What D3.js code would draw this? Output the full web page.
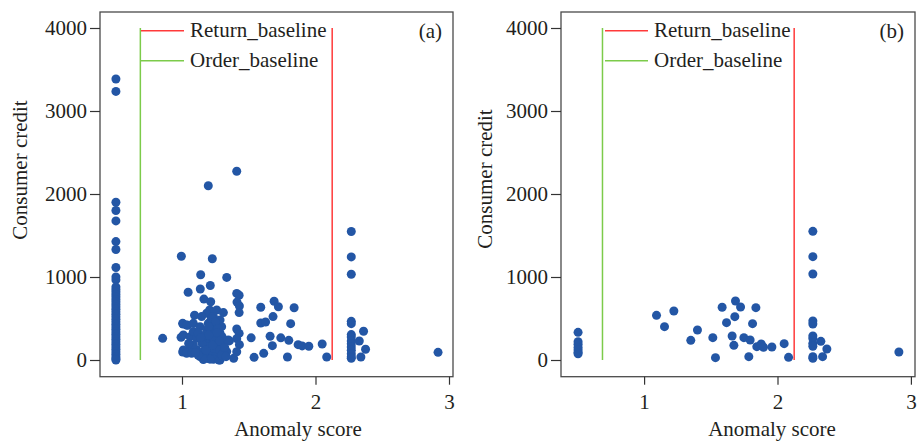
<!DOCTYPE html>
<html><head><meta charset="utf-8">
<script src="https://cdn.jsdelivr.net/npm/d3@7"></script>
<style>
body{margin:0;background:#fff;}
svg text{font-family:"Liberation Serif","Times New Roman","DejaVu Serif",serif !important;fill:#231f20;}
</style></head>
<body><svg id="c" width="919" height="442"></svg>
<script>
// ---- data ----
const xTicks = [1, 2, 3];
const yTicks = [0, 1000, 2000, 3000, 4000];
const panelLabels = ["(a)", "(b)"];
const legendLabels = ["Return_baseline", "Order_baseline"];
const returnBaseline = 2.125;
const orderBaseline = 0.688;
const columnX = 0.505;
const columnA = [3385,3236,1901,1801,1676,1427,1331,1114,1001,965,880,850,820,790,760,730,700,670,640,610,580,550,520,490,460,430,400,370,340,310,280,250,220,190,160,130,100,70,40,15,0];
const pointsA = [[0.855,261],[0.995,1250],[1.197,2100],[1.41,2274],[1.227,1220],[1.14,1027],[1.335,995],[1.212,898],[1.137,855],[1.046,816],[1.41,802],[1.428,780],[1.164,734],[1.215,702],[1.412,698],[1.43,651],[1.428,571],[1.59,636],[1.69,708],[1.722,641],[1.84,629],[1.682,523],[1.094,539],[1.008,434],[1.042,418],[1.59,446],[1.626,458],[1.814,438],[1.66,286],[1.74,267],[1.8,237],[1.518,267],[1.355,230],[1.87,185],[1.9,170],[1.95,165],[2.05,193],[2.084,36],[1.79,36],[1.54,32],[1.612,80],[1.677,173],[1.387,20],[1.277,0],[1.41,374],[1.428,320],[1.41,257],[1.43,185],[1.41,100],[1.005,96],[0.993,273],
[1.207,603],[1.26,603],[1.31,571],[1.185,563],[1.235,523],[1.285,483],[1.005,442],[1.035,422],[1.085,442],[1.135,402],[1.185,362],[1.235,342],[1.285,322],[1.01,302],[1.06,281],[1.11,261],[1.16,241],[1.21,221],[1.26,201],[1.31,181],[1.01,121],[1.06,141],[1.11,121],[1.16,101],[1.21,80],[1.26,60],[1.035,80],[1.135,40],[1.185,20],[1.235,8],[1.285,0],[1.085,181],[1.185,161],[1.235,141],[1.285,121],[1.335,101],[1.347,241],[1.147,523],[1.197,442],[1.247,422],[1.297,402],[1.085,342],[1.122,322],[1.172,302],[1.222,281],[1.272,261],[1.072,80],[1.297,60],[1.21,10],[1.16,5],
[1.22,500],[1.25,460],[1.2,400],[1.27,380],[1.15,200],[1.24,250],[1.3,280],[1.18,120],[1.23,180],[1.28,230],[1.12,60],[1.33,40],[1.05,200],[1.1,90],[1.32,150],[1.26,330],[1.2,300],[1.14,270],
[2.268,1548],[2.268,1242],[2.268,1033],[2.268,466],[2.268,438],[2.268,306],[2.268,277],[2.268,230],[2.268,197],[2.268,157],[2.268,117],[2.268,76],[2.268,40],[2.268,20],[2.328,229],[2.375,129],[2.34,36],[2.36,346],[2.918,92]];
const columnB = [333,221,190,150,120,90,75];
const pointsB = [[1.093,538],[1.223,590],[1.153,402],[1.40,361],[1.35,237],[1.515,269],[1.535,28],[1.585,635],[1.685,711],[1.723,639],[1.838,631],[1.68,522],[1.618,450],[1.813,438],[1.66,289],[1.748,269],[1.795,241],[1.673,177],[1.845,161],[1.878,193],[1.895,153],[1.958,157],[2.05,197],[1.785,40],[2.083,32],
[2.265,1550],[2.265,1245],[2.265,1036],[2.265,470],[2.265,434],[2.265,289],[2.265,260],[2.265,201],[2.265,165],[2.265,40],[2.265,20],[2.325,225],[2.37,133],[2.338,40],[2.91,96]];

// ---- drawing ----
const svg = d3.select("#c");
const dotColor = "#2356a5";
const serif = '"Liberation Serif","Times New Roman","DejaVu Serif",serif';
const panels = [
  {label: panelLabels[0], col: columnA, pts: pointsA, xr: [48.5, 449], frame: [100, 453], ylab: [26.7, 170], xlabX: 298, legX: 141},
  {label: panelLabels[1], col: columnB, pts: pointsB, xr: [510.7, 910.9], frame: [561, 915], ylab: [491.7, 179], xlabX: 772, legX: 605}
];
const yTop = 12, yBot = 376.7;

panels.forEach(p => {
  const x = d3.scaleLinear().domain([0, 3]).range(p.xr);
  const y = d3.scaleLinear().domain([0, 4000]).range([360, 28]);
  const g = svg.append("g").attr("font-family", serif);

  g.append("rect").attr("x", p.frame[0]).attr("y", yTop)
    .attr("width", p.frame[1] - p.frame[0]).attr("height", yBot - yTop)
    .attr("fill", "none").attr("stroke", "#4a4a4a").attr("stroke-width", 1.3);

  const ya = g.append("g").attr("transform", `translate(${p.frame[0]},0)`)
    .call(d3.axisLeft(y).tickValues(yTicks).tickSize(10).tickPadding(3).tickFormat(d3.format("d")));
  const xa = g.append("g").attr("transform", `translate(0,${yBot})`)
    .call(d3.axisBottom(x).tickValues(xTicks).tickSize(8).tickPadding(9).tickFormat(d3.format("d")));
  [ya, xa].forEach(a => {
    a.attr("font-family", serif).attr("font-size", 21);
    a.select(".domain").remove();
    a.selectAll("line").attr("stroke", "#333").attr("stroke-width", 1.2);
    a.selectAll("text").attr("fill", "#231f20");
  });

  g.append("line").attr("x1", x(orderBaseline)).attr("x2", x(orderBaseline))
    .attr("y1", y(4000)).attr("y2", y(0)).attr("stroke", "#7ccb4a").attr("stroke-width", 1.5);
  g.append("line").attr("x1", x(returnBaseline)).attr("x2", x(returnBaseline))
    .attr("y1", y(4000)).attr("y2", y(0)).attr("stroke", "#ff3a3a").attr("stroke-width", 1.5);

  const legColors = ["#ff3a3a", "#7ccb4a"];
  const legY = [30.7, 60.7];
  legendLabels.forEach((t, i) => {
    g.append("line").attr("x1", p.legX).attr("x2", p.legX + 43)
      .attr("y1", legY[i]).attr("y2", legY[i]).attr("stroke", legColors[i]).attr("stroke-width", 1.5);
    g.append("text").attr("x", p.legX + 49).attr("y", legY[i] + 6.5)
      .attr("font-size", 21).text(t);
  });

  g.append("text").attr("x", p.frame[1] - 11).attr("y", 37.5).attr("text-anchor", "end")
    .attr("font-size", 21).text(p.label);

  g.append("text").attr("transform", `translate(${p.ylab[0]},${p.ylab[1]}) rotate(-90)`)
    .attr("text-anchor", "middle").attr("font-size", 21).text("Consumer credit");
  g.append("text").attr("x", p.xlabX).attr("y", 436).attr("text-anchor", "middle")
    .attr("font-size", 21).text("Anomaly score");

  const all = p.col.map(v => [columnX, v]).concat(p.pts);
  g.append("g").selectAll("circle").data(all).join("circle")
    .attr("cx", d => x(d[0])).attr("cy", d => y(d[1])).attr("r", 4.5)
    .attr("fill", dotColor);
});
</script></body></html>
